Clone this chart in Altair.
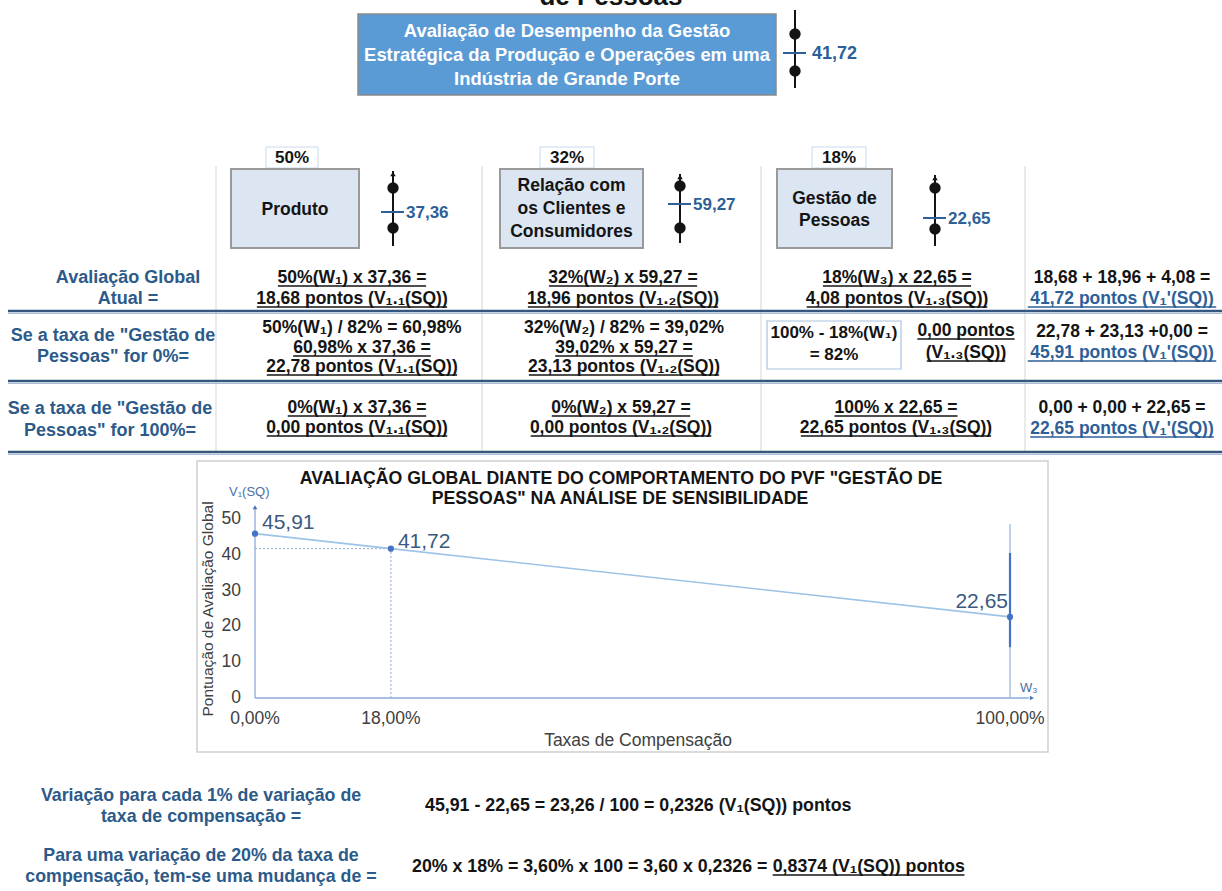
import unicodedata

import altair as alt
import pandas as pd

W, H = 1222, 891
SANS = "Liberation Sans, Arial, Helvetica, sans-serif"
LABEL_BLUE = "#2C5A89"
VALUE_BLUE = "#2E5F97"
INK = "#141414"
AXIS_TEXT = "#404040"
AXIS_LINE = "#8FAADC"
RULE_DARK = "#34567F"
RULE_LIGHT = "#A9BDD6"
GRID = "#D5D5D5"

# ---------------- content ----------------
heading_tail = "de Pessoas"
objective_lines = [
    "Avaliação de Desempenho da Gestão",
    "Estratégica da Produção e Operações em uma",
    "Indústria de Grande Porte",
]
objective_score = "41,72"
weight_labels = ["50%", "32%", "18%"]
criterion_lines = [["Produto"], ["Relação com", "os Clientes e", "Consumidores"], ["Gestão de", "Pessoas"]]
criterion_scores = ["37,36", "59,27", "22,65"]
row_labels = [
    ["Avaliação Global", "Atual ="],
    ["Se a taxa de \"Gestão de", "Pessoas\" for 0%="],
    ["Se a taxa de \"Gestão de", "Pessoas\" for 100%="],
]
# (text, style): u = underlined, p = plain, bu = blue underlined
current_cells = [
    [("50%(W₁) x 37,36 =", "u"), ("18,68 pontos (V₁.₁(SQ))", "u")],
    [("32%(W₂) x 59,27 =", "u"), ("18,96 pontos (V₁.₂(SQ))", "u")],
    [("18%(W₃) x 22,65 =", "u"), ("4,08 pontos (V₁.₃(SQ))", "u")],
    [("18,68 + 18,96 + 4,08 =", "p"), ("41,72  pontos (V₁'(SQ))", "bu")],
]
zero_cells = [
    [("50%(W₁) / 82% = 60,98%", "p"), ("60,98% x 37,36 =", "u"), ("22,78 pontos (V₁.₁(SQ))", "u")],
    [("32%(W₂) / 82% = 39,02%", "p"), ("39,02% x 59,27 =", "u"), ("23,13 pontos (V₁.₂(SQ))", "u")],
    [],
    [("22,78 + 23,13 +0,00 =", "p"), ("45,91  pontos (V₁'(SQ))", "bu")],
]
zero_people_box = ["100% - 18%(W₁)", "= 82%"]
zero_people_value = ["0,00 pontos", "(V₁.₃(SQ))"]
full_cells = [
    [("0%(W₁) x 37,36 =", "u"), ("0,00 pontos (V₁.₁(SQ))", "u")],
    [("0%(W₂) x 59,27 =", "u"), ("0,00 pontos (V₁.₂(SQ))", "u")],
    [("100% x 22,65 =", "u"), ("22,65 pontos (V₁.₃(SQ))", "u")],
    [("0,00 + 0,00 + 22,65 =", "p"), ("22,65 pontos (V₁'(SQ))", "bu")],
]

chart_title = [
    "AVALIAÇÃO GLOBAL DIANTE DO COMPORTAMENTO DO PVF \"GESTÃO DE",
    "PESSOAS\" NA ANÁLISE DE SENSIBILIDADE",
]
rate = [0, 18, 100]
score = [45.91, 41.72, 22.65]
score_labels = ["45,91", "41,72", "22,65"]
y_ticks = [0, 10, 20, 30, 40, 50]
y_tick_labels = ["0", "10", "20", "30", "40", "50"]
x_tick_labels = ["0,00%", "18,00%", "100,00%"]
full_rate_span = [14.2, 40.5]
x_title = "Taxas de Compensação"
y_title = "Pontuação de Avaliação  Global"
y_unit = "V₁(SQ)"
x_unit = "W₃"

summary_labels = [
    ["Variação para cada 1% de variação de", "taxa de compensação ="],
    ["Para uma variação de 20% da taxa de", "compensação, tem-se uma mudança de ="],
]
summary_per_point = "45,91 - 22,65 = 23,26 / 100 = 0,2326 (V₁(SQ)) pontos"
summary_change = ["20% x 18% = 3,60% x 100 = 3,60 x 0,2326 = ", "0,8374 (V₁(SQ)) pontos"]

# ---------------- text metrics (bold sans advance widths, 1/1000 em) ----------------
_ADV = {}
for chars, adv in [
    (" ,./'", 278), ("0123456789$#", 556), ("%", 889), ("()-", 333), ("+=<>", 584), ('"', 474),
    ("ACDHKNRUB", 722), ("EPSVXY", 667), ("FLTZ", 611), ("GOQ", 778), ("I", 278), ("J", 556),
    ("M", 833), ("W", 944), ("abcekvxsy", 556), ("dghnopqu", 611), ("ijl", 278), ("ft", 333),
    ("m", 889), ("r", 389), ("w", 778), ("z", 500),
]:
    for ch in chars:
        _ADV[ch] = adv


def text_width(s, size):
    units = 0
    for ch in s:
        if ch in "₁₂₃":
            units += 380
            continue
        units += _ADV.get(unicodedata.normalize("NFD", ch)[0], 556)
    return units * size / 1000


# ---------------- canvas primitives ----------------
texts, rules, boxes, dots = [], [], [], []


def put(t, x, y, size, color=INK, weight="bold", align="center",
        underline=False, baseline="alphabetic", angle=0):
    texts.append(dict(t=t, x=x, y=y, size=size, color=color, weight=weight,
                      align=align, baseline=baseline, angle=angle))
    if underline:
        w = text_width(t, size)
        x0 = {"center": x - w / 2, "left": x, "right": x - w}[align]
        rules.append(dict(x=x0, x2=x0 + w, y=y + 3, y2=y + 3, color=color, w=1.6))


def line(x, y, x2, y2, color, w):
    rules.append(dict(x=x, x2=x2, y=y, y2=y2, color=color, w=w))


def box(x, y, x2, y2, fill, stroke, w):
    boxes.append(dict(x=x, x2=x2, y=y, y2=y2, fill=fill, stroke=stroke, w=w))


def dot(x, y, size, color, shape="circle"):
    dots.append(dict(x=x, y=y, size=size, color=color, shape=shape))


def scale_icon(xc, top, bottom, d1, d2, tick_y, label, arrow=True, gap=13, size=17):
    line(xc, top, xc, bottom, INK, 2)
    if arrow:
        dot(xc, top + 3, 30, INK, "triangle-up")
    dot(xc, d1, 130, INK)
    dot(xc, d2, 130, INK)
    line(xc - 12, tick_y, xc + 11, tick_y, VALUE_BLUE, 2)
    put(label, xc + gap, tick_y + 6, size, VALUE_BLUE, align="left")


STYLE = {"u": (INK, True), "p": (INK, False), "bu": (VALUE_BLUE, True)}


def cell(lines, xc, baselines, size=17.5):
    for (t, st), yb in zip(lines, baselines):
        color, ul = STYLE[st]
        put(t, xc, yb, size, color, underline=ul)


# heading (continues above the page edge)
put(heading_tail, 611, 5, 26)

# objective box
box(358, 14, 776, 95, "#5B9BD5", "#8A8A8A", 1.5)
for t, yb in zip(objective_lines, [37, 61, 85]):
    put(t, 567, yb, 18.4, "#FFFFFF")
scale_icon(795, 10, 88, 34, 71, 53, objective_score, arrow=False, gap=17, size=18)

# criteria header
weight_boxes = [(266, 318), (540, 594), (812, 866)]
crit_boxes = [(231, 359), (500, 643), (777, 892)]
crit_base = [[215], [191, 214, 237], [204, 226]]
icons = [(393, 171, 246, 188, 228, 212), (680, 174, 243, 186, 228, 204), (935, 175, 246, 188, 229, 218)]
for i in range(3):
    x0, x1 = weight_boxes[i]
    box(x0, 147, x1, 168, "#FFFFFF", "#C9DAEE", 1)
    put(weight_labels[i], (x0 + x1) / 2, 163, 17)
    c0, c1 = crit_boxes[i]
    box(c0, 169, c1, 248, "#DCE6F2", "#9A9A9A", 2)
    for t, yb in zip(criterion_lines[i], crit_base[i]):
        put(t, (c0 + c1) / 2, yb, 17.5)
    scale_icon(*icons[i], criterion_scores[i])

# table grid
for gx in [216, 482, 761, 1025]:
    line(gx, 166, gx, 452, GRID, 1)
for gy in [311, 381, 452]:
    line(8, gy, W, gy, RULE_DARK, 2.4)
    line(8, gy + 2.5, W, gy + 2.5, RULE_LIGHT, 1.2)

# row labels
for lines_, xc, bases in zip(row_labels, [128, 113, 110], [[283, 304], [341, 362], [414, 436]]):
    for t, yb in zip(lines_, bases):
        put(t, xc, yb, 18, LABEL_BLUE)

cell(current_cells[0], 352, [283, 304])
cell(current_cells[1], 623, [283, 304])
cell(current_cells[2], 897, [283, 304])
cell(current_cells[3], 1122, [283, 304])
cell(zero_cells[0], 362, [333, 353, 372])
cell(zero_cells[1], 624, [333, 353, 372])
cell(zero_cells[3], 1122, [337, 358])
box(767, 321, 901, 369, "#FFFFFF", "#A8C1E0", 1.2)
put(zero_people_box[0], 834, 338, 17)
put(zero_people_box[1], 834, 360, 17)
put(zero_people_value[0], 966, 336, 17.5, underline=True)
put(zero_people_value[1], 966, 358, 17.5, underline=True)
cell(full_cells[0], 357, [413, 433])
cell(full_cells[1], 621, [413, 433])
cell(full_cells[2], 896, [413, 433])
cell(full_cells[3], 1122, [413, 434])

# chart frame and texts around the plot
box(197, 461, 1048, 752, "#FFFFFF", "#CFCFCF", 1.5)
put(chart_title[0], 621, 484, 17.7)
put(chart_title[1], 620, 504, 17.7)
put(y_unit, 229, 496, 13, "#4A6FA8", weight="normal", align="left")
put(x_unit, 1020, 692, 13, "#4A6FA8", weight="normal", align="left")
put(x_title, 638, 746, 17.5, AXIS_TEXT, weight="normal")
put(y_title, 208, 609, 15.5, AXIS_TEXT, weight="normal", baseline="middle", angle=270)

# summary lines
SUM = 17.8
for lines_, bases in zip(summary_labels, [[801, 822], [861, 882]]):
    for t, yb in zip(lines_, bases):
        put(t, 201, yb, SUM, LABEL_BLUE)
put(summary_per_point, 425, 811, SUM, align="left")
put(summary_change[0], 412, 872, SUM, align="left")
put(summary_change[1], 412 + text_width(summary_change[0], SUM), 872, SUM,
    align="left", underline=True)

# ---------------- canvas layers (pixel scales) ----------------
px = alt.Scale(domain=[0, W], range=[0, W], nice=False, zero=False)
py = alt.Scale(domain=[0, H], range=[0, H], nice=False, zero=False)


def cx(f="x"):
    return alt.X(f"{f}:Q", scale=px, axis=None)


def cy(f="y"):
    return alt.Y(f"{f}:Q", scale=py, axis=None)


box_layer = alt.Chart(pd.DataFrame(boxes)).mark_rect().encode(
    x=cx(), x2="x2:Q", y=cy(), y2="y2:Q",
    fill=alt.Fill("fill:N", scale=None),
    stroke=alt.Stroke("stroke:N", scale=None),
    strokeWidth=alt.StrokeWidth("w:Q", scale=None),
)
rule_layer = alt.Chart(pd.DataFrame(rules)).mark_rule(strokeCap="butt").encode(
    x=cx(), x2="x2:Q", y=cy(), y2="y2:Q",
    color=alt.Color("color:N", scale=None),
    strokeWidth=alt.StrokeWidth("w:Q", scale=None),
)
dot_layer = alt.Chart(pd.DataFrame(dots)).mark_point(filled=True, opacity=1, strokeWidth=0).encode(
    x=cx(), y=cy(),
    size=alt.Size("size:Q", scale=None),
    color=alt.Color("color:N", scale=None),
    shape=alt.Shape("shape:N", scale=None),
)

text_df = pd.DataFrame(texts)
text_layers = []
for (weight, align, baseline, angle), grp in text_df.groupby(
        ["weight", "align", "baseline", "angle"], sort=False):
    text_layers.append(
        alt.Chart(grp.drop(columns=["weight", "align", "baseline", "angle"]))
        .mark_text(font=SANS, fontWeight=weight, align=align, baseline=baseline, angle=int(angle))
        .encode(x=cx(), y=cy(), text="t:N",
                size=alt.Size("size:Q", scale=None),
                color=alt.Color("color:N", scale=None))
    )

canvas = alt.layer(box_layer, rule_layer, dot_layer, *text_layers)

# ---------------- sensitivity plot (data scales) ----------------
xs = alt.Scale(domain=[0, 100], range=[255, 1010], nice=False, zero=False)
ys = alt.Scale(domain=[0, 50], range=[698, 519], nice=False, zero=False)
X = alt.X("rate:Q", scale=xs, axis=None)
Y = alt.Y("score:Q", scale=ys, axis=None)

curve = pd.DataFrame({"rate": rate, "score": score, "label": score_labels})
current = curve.iloc[[1]]

axes_df = pd.DataFrame({
    "rate": [0, 0, rate[-1], rate[-1]],
    "rate2": [0, 102.5, rate[-1], rate[-1]],
    "score": [0, 0, 0, full_rate_span[0]],
    "score2": [53, 0, 48.6, full_rate_span[1]],
    "w": [1.3, 1.3, 1.2, 2.2],
    "color": [AXIS_LINE, AXIS_LINE, "#8FB4DE", "#4472C4"],
})
axes_layer = alt.Chart(axes_df).mark_rule(strokeCap="butt").encode(
    x=X, x2="rate2:Q", y=Y, y2="score2:Q",
    strokeWidth=alt.StrokeWidth("w:Q", scale=None),
    color=alt.Color("color:N", scale=None),
)
heads_df = pd.DataFrame({"rate": [0, 102.9], "score": [53.3, 0], "shape": ["triangle-up", "triangle-right"]})
heads_layer = alt.Chart(heads_df).mark_point(filled=True, opacity=1, size=22, color="#4472C4", strokeWidth=0).encode(
    x=X, y=Y, shape=alt.Shape("shape:N", scale=None))

guide_h = alt.Chart(current).mark_rule(strokeDash=[2, 2], color=AXIS_LINE, strokeWidth=1).encode(
    x=alt.X("zero_rate:Q", scale=xs, axis=None), x2="rate:Q", y=Y
).transform_calculate(zero_rate="0")
guide_v = alt.Chart(current).mark_rule(strokeDash=[2, 2], color=AXIS_LINE, strokeWidth=1).encode(
    x=X, y=alt.Y("zero_score:Q", scale=ys, axis=None), y2="score:Q"
).transform_calculate(zero_score="0")

line_layer = alt.Chart(curve).mark_line(color="#9DC3E6", strokeWidth=1.6).encode(x=X, y=Y)
point_layer = alt.Chart(curve).mark_circle(size=38, color="#4472C4", opacity=1).encode(x=X, y=Y)

label_offsets = [("left", 7, -5), ("left", 7, -1), ("right", -2, -9)]
label_layers = []
for r, (al, dx, dy) in zip(rate, label_offsets):
    label_layers.append(
        alt.Chart(curve).transform_filter(alt.datum.rate == r)
        .mark_text(align=al, dx=dx, dy=dy, baseline="alphabetic", font=SANS, fontSize=21, color="#3A5A80")
        .encode(x=X, y=Y, text="label:N")
    )

ytick_layer = alt.Chart(pd.DataFrame({"score": y_ticks, "label": y_tick_labels})).mark_text(
    align="right", baseline="middle", font=SANS, fontSize=17.5, color=AXIS_TEXT
).encode(x=alt.value(241), y=Y, text="label:N")
xtick_layer = alt.Chart(pd.DataFrame({"rate": rate, "label": x_tick_labels})).mark_text(
    align="center", baseline="middle", font=SANS, fontSize=17.5, color=AXIS_TEXT
).encode(x=X, y=alt.value(719), text="label:N")

plot = alt.layer(axes_layer, heads_layer, guide_h, guide_v, line_layer, point_layer,
                 *label_layers, ytick_layer, xtick_layer)

chart = (
    alt.layer(canvas, plot)
    .resolve_scale(x="independent", y="independent")
    .properties(width=W, height=H, padding=0, background="#FFFFFF",
                autosize=alt.AutoSizeParams(type="none"))
    .configure_view(stroke=None)
)

chart.save("out.html", embed_options={"renderer": "svg", "actions": False})
